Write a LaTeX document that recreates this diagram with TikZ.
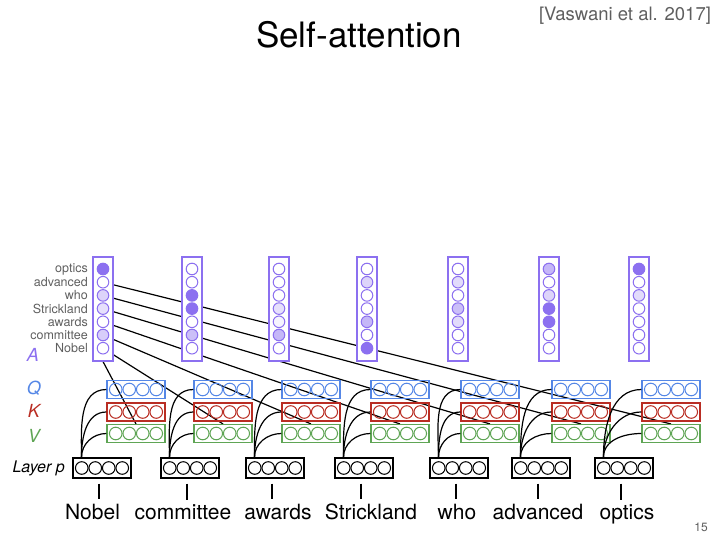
\documentclass[tikz,border=0pt]{standalone}
\usepackage{fontspec}
\setmainfont{TeX Gyre Heros}
\usetikzlibrary{backgrounds,positioning}
\definecolor{attn}{RGB}{140,112,240}
\definecolor{qblue}{RGB}{85,135,230}
\definecolor{kred}{RGB}{185,45,35}
\definecolor{vgreen}{RGB}{95,165,85}
\definecolor{soft}{RGB}{95,95,95}

\begin{document}
\begin{tikzpicture}[x=1pt, y=1pt,
  vec/.style={draw, line width=1.1pt, minimum width=58pt, minimum height=18pt, inner sep=0pt},
  dot/.style={circle, draw, line width=1pt, minimum size=12.6pt, inner sep=0pt},
  abox/.style={draw=attn, fill=white, line width=1.1pt, minimum width=20pt, minimum height=104pt, inner sep=0pt},
  adot/.style={circle, draw=attn, line width=1pt, minimum size=11.6pt, inner sep=0pt},
  word/.style={font=\fontsize{21}{25}\selectfont, anchor=base, inner sep=0pt},
  rowlbl/.style={font=\fontsize{12.5}{14}\selectfont, text=soft, anchor=east, inner sep=0pt},
  tag/.style={font=\fontsize{18}{20}\selectfont\itshape, inner sep=0pt},
  wire/.style={line width=1.2pt}]
\useasboundingbox (0,0) rectangle (720,540);
% titles
\node[font=\fontsize{35}{40}\selectfont] (title) at (359,505) {Self-attention};
\node[font=\fontsize{18.5}{20}\selectfont, text=soft] (cite) at (625,524) {[Vaswani et al. 2017]};
\node[font=\fontsize{12}{14}\selectfont, text=soft] (page) at (701,13) {15};
% row labels and tags
\foreach \t [count=\r] in {optics,advanced,who,Strickland,awards,committee,Nobel}
  \node[rowlbl] (r\r) at (88,{271-13.2*(\r-1)}) {\t};
\node[tag, text=attn] (ta) at (33,185) {A};
\node[tag, text=qblue] (tq) at (34,152) {Q};
\node[tag, text=kred] (tk) at (34,129) {K};
\node[tag, text=vgreen] (tv) at (34,104) {V};
\node[font=\fontsize{16}{18}\selectfont\itshape, anchor=east, inner sep=0pt] (tl) at (65,72) {Layer p};
% one column per word
\foreach \i/\lx/\qx/\ax/\wx/\w/\f in {
  1/102/136/103/92.5/Nobel/{100,0,30,22,0,35,0},
  2/190/223/192/183/committee/{0,0,100,100,0,45,0},
  3/275/311/279/278/awards/{0,0,0,22,8,50,0},
  4/364/400/367/371/Strickland/{0,30,0,0,50,0,100},
  5/459/490/458/457/who/{0,25,0,45,25,0,0},
  6/541/581/549/538/advanced/{50,0,30,100,100,0,0},
  7/624/671/639/627/optics/{100,0,25,0,0,0,0}}
{
  \node[abox] (a\i) at (\ax,231) {};
  \foreach \v [count=\r] in \f
    \node[adot, fill=attn!\v!white] (a\i-\r) at (\ax,{271-13.2*(\r-1)}) {};
  \node[vec, draw=qblue] (q\i) at (\qx,150.5) {};
  \node[vec, draw=kred] (k\i) at (\qx,128) {};
  \node[vec, draw=vgreen] (v\i) at (\qx,106.5) {};
  \node[vec, minimum height=20pt] (lp\i) at (\lx,72) {};
  \foreach \d in {-1.5,-0.5,0.5,1.5} {
    \node[dot, draw=qblue] at ({\qx+\d*13.5},150.5) {};
    \node[dot, draw=kred] at ({\qx+\d*13.5},128) {};
    \node[dot, draw=vgreen] at ({\qx+\d*13.5},106.5) {};
    \node[dot] at ({\lx+\d*13.5},72) {};
  }
  \node[word] (w\i) at (\wx,20) {\w};
  \draw[wire] ([xshift=-3pt,yshift=-5pt]lp\i.south) -- ([xshift=-3pt,yshift=5pt]lp\i.south |- w\i.north);
  \draw[wire] ([xshift=9pt]lp\i.north west) to[out=90,in=180] (q\i.west);
  \draw[wire] ([xshift=9pt]lp\i.north west) to[out=90,in=180] (k\i.west);
  \draw[wire] ([xshift=9pt]lp\i.north west) to[out=90,in=180] (v\i.west);
}
% attention weights to the values
\begin{scope}[on background layer]
\foreach \c/\r in {2/7,3/6,4/5,5/4,6/3,7/2}
  \draw[wire] (a1-\r.center) -- (v\c.north);
\draw[wire] (a1.south) -- (v1.north);
\end{scope}
\end{tikzpicture}
\end{document}
